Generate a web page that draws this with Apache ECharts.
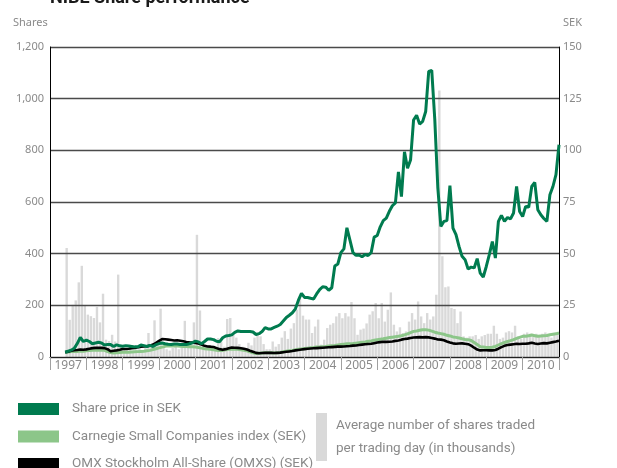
<!DOCTYPE html>
<html>
<head>
<meta charset="utf-8">
<script src="https://cdn.jsdelivr.net/npm/echarts@6/dist/echarts.min.js"></script>
<style>html,body{margin:0;padding:0;background:#fff;}#c{width:617px;height:468px;}</style>
</head>
<body>
<div id="c"></div>
<script>
// ---- DATA (monthly, Jan 1997 .. Dec 2010) ----
const years = ['1997','1998','1999','2000','2001','2002','2003','2004','2005','2006','2007','2008','2009','2010'];
const shareTicks = [0, 200, 400, 600, 800, 1000, 1200];
const sekTicks = [0, 25, 50, 75, 100, 125, 150];

// Average number of shares traded per trading day (thousands)
const shareVolume = [
  null,null,null,null,null,422,144,202,219,289,353,199,
  164,158,151,194,134,245,67,62,86,60,319,40,
  35,30,45,25,30,40,20,35,93,45,142,55,
  187,40,30,25,35,40,30,45,140,50,60,134,
  473,180,50,40,45,30,35,73,60,40,147,151,
  85,75,50,40,35,55,45,75,87,80,50,30,
  30,60,40,50,75,100,70,110,131,183,228,160,
  145,145,93,118,145,48,67,112,125,131,157,170,
  150,170,157,213,150,86,106,110,130,164,177,209,
  150,209,137,183,250,125,99,115,93,99,137,170,
  145,215,157,131,170,145,157,241,1032,390,270,273,
  190,186,131,176,80,75,80,80,85,70,80,85,
  90,90,121,90,70,75,95,100,95,121,80,70,
  90,95,90,80,90,85,90,95,80,75,85,95
];

// Share price in SEK (month end)
const sharePrice = [
  null,null,null,null,2.3,2.8,3.3,4.2,6.5,9.5,7.5,8.2,
  7.5,6.4,6.8,7.1,6.8,5.8,6.0,6.0,5.1,5.9,5.4,5.2,
  5.5,5.3,5.1,4.9,4.9,5.8,5.5,5.1,5.6,5.1,6.0,6.5,
  6.8,6.4,6.2,6.1,6.3,6.3,6.1,6.0,6.0,6.4,6.9,7.7,
  7.3,6.4,7.5,8.7,8.7,8.4,7.6,7.4,9.3,10.2,10.4,10.7,
  11.9,12.6,12.3,12.3,12.4,12.3,12.1,10.9,11.3,12.3,14.2,13.6,
  13.6,14.3,14.9,15.7,17.4,19.1,20.2,21.4,23.3,27.5,30.8,28.8,
  28.8,28.4,28.1,30.5,32.6,34.0,33.8,32.3,33.5,44.0,45.0,50.5,
  52.3,62.5,56.6,50.5,49.2,49.4,48.5,49.6,49.1,50.5,58.0,58.8,
  63.0,66.0,67.2,70.5,73.2,74.6,89.6,77.6,99.3,91.3,95.3,114.7,
  117,112.7,114,118.8,138.2,138.7,115,82,63.2,65.6,66,82.9,
  62.4,59.2,53.5,48.7,47.1,42.6,43.5,43.1,47.6,40.6,38.7,43.8,
  49.5,55.9,47.9,65.6,68.5,65.6,67.5,66.8,69.7,82.5,70.4,68.0,
  72.9,72.5,82.5,84.5,71.3,68.8,67.0,65.6,78.5,82.5,88.2,102.7
];

// Carnegie Small Companies index (SEK, rebased)
const carnegieIndex = [
  null,null,null,null,2.3,2.4,2.6,2.8,2.7,2.9,2.8,3.0,
  3.2,3.3,3.4,3.3,3.4,3.2,2.6,2.2,1.9,2.0,2.2,2.3,
  2.3,2.3,2.4,2.5,2.6,2.7,2.8,3.0,3.2,3.6,4.0,4.4,
  4.8,5.2,5.4,5.3,5.4,5.3,5.2,5.1,5.1,5.0,5.0,4.8,
  4.6,4.3,4.0,3.9,3.7,3.5,3.3,3.1,3.2,3.5,3.8,3.9,
  3.8,3.7,3.5,3.3,3.0,2.5,2.0,1.7,1.8,1.9,2.0,2.0,
  2.0,1.9,2.0,2.2,2.5,2.8,3.0,3.2,3.5,3.7,3.9,4.1,
  4.3,4.5,4.6,4.8,4.9,5.0,5.1,5.3,5.5,5.6,5.8,6.0,
  6.2,6.4,6.4,6.5,6.7,6.9,7.1,7.3,7.6,7.8,8.1,8.4,
  8.6,8.8,9.1,9.4,9.6,9.8,10.0,10.3,10.7,11.2,11.8,12.4,
  12.6,12.9,13.2,13.2,13.0,12.5,12.0,11.6,11.3,11.0,10.5,10.2,
  9.7,9.5,9.2,8.8,8.5,8.4,8.0,7.0,6.0,5.0,4.8,4.6,
  4.6,4.7,5.1,5.8,6.5,7.0,7.5,7.9,8.4,9.0,9.5,10.0,
  10.0,10.3,10.6,10.3,10.0,10.2,10.3,10.4,10.8,11.0,11.2,11.6
];

// OMX Stockholm All-Share (OMXS) (SEK, rebased)
const omxIndex = [
  null,null,null,null,2.3,2.6,3.0,3.3,3.4,3.6,3.5,3.7,
  4.0,4.3,4.4,4.5,4.4,4.3,3.8,2.8,3.0,3.2,3.5,3.9,
  3.9,4.0,4.2,4.4,4.7,5.0,5.1,5.2,5.5,6.0,6.8,7.8,
  8.7,8.6,8.4,8.2,8.0,8.1,7.9,7.6,7.3,7.1,7.0,6.8,
  6.5,6.0,5.4,5.1,5.0,4.8,4.3,3.8,3.5,3.8,4.2,4.6,
  4.5,4.4,4.2,4.0,3.6,3.0,2.5,2.0,1.8,1.9,2.0,2.0,
  2.0,1.9,2.0,2.1,2.3,2.5,2.7,2.9,3.2,3.4,3.6,3.8,
  4.0,4.1,4.2,4.3,4.4,4.5,4.6,4.7,4.8,4.9,5.0,5.0,
  5.1,5.2,5.3,5.5,5.6,5.8,6.0,6.2,6.3,6.4,6.7,7.0,
  7.2,7.4,7.3,7.4,7.5,7.8,8.0,8.4,8.7,8.9,9.2,9.4,
  9.5,9.6,9.5,9.6,9.5,9.2,8.9,8.5,8.4,8.1,7.5,7.0,
  6.6,6.4,6.5,6.6,6.4,6.2,5.5,4.5,3.6,3.2,3.3,3.3,
  3.2,3.2,3.4,4.0,4.8,5.4,5.8,6.0,6.2,6.4,6.3,6.4,
  6.4,6.6,6.9,6.5,6.3,6.5,6.7,6.6,6.9,7.2,7.5,7.9
];

const seriesNames = ['Share price in SEK','Carnegie Small Companies index (SEK)','OMX Stockholm All-Share (OMXS) (SEK)'];
const volumeName = 'Average number of shares traded per trading day (in thousands)';

// ---- build ----
const nMonths = shareVolume.length;
const barPts = shareVolume.map((v, i) => [i + 0.5, v]);
const endPts = arr => arr.map((v, i) => [i + 1, v]);

const FONT = '"Roboto","Noto Sans",sans-serif';
const AX_FONT = '"Noto Sans","Open Sans",sans-serif';
const GREY = '#8a8a8a';

const chart = echarts.init(document.getElementById('c'), null, {renderer: 'canvas'});
chart.setOption({
  animation: false,
  backgroundColor: '#fff',
  title: {
    text: 'NIBE Share performance', left: 50, top: -11, padding: 0,
    textStyle: {fontFamily: FONT, fontSize: 18, fontWeight: 'bold', color: '#1a1a1a'}
  },
  grid: {left: 50, right: 58, top: 47, bottom: 111, containLabel: false},
  xAxis: [
    {type: 'value', min: 0, max: nMonths, show: false},
    {type: 'category', data: years, boundaryGap: true, position: 'bottom',
     axisLine: {show: true, lineStyle: {color: '#222', width: 1}},
     axisTick: {show: true, interval: 0, alignWithLabel: false, length: 13, lineStyle: {color: '#a0a0a0', width: 1}},
     axisLabel: {interval: 0, color: GREY, fontSize: 12, margin: 3, fontFamily: AX_FONT},
     splitLine: {show: false}, z: 3}
  ],
  yAxis: [
    {type: 'value', min: 0, max: 1200, interval: 200, position: 'left', z: 3,
     name: 'Shares', nameLocation: 'end', nameGap: 19,
     nameTextStyle: {color: GREY, fontSize: 11, fontFamily: AX_FONT, align: 'left', padding: [0, 0, 0, -37]},
     axisLine: {show: true, lineStyle: {color: '#000', width: 1}},
     axisTick: {show: false},
     axisLabel: {color: GREY, fontSize: 11, margin: 6, fontFamily: AX_FONT,
       formatter: v => v.toLocaleString('en-US')},
     splitLine: {show: true, lineStyle: {color: '#4a4a4a', width: 1.3}}},
    {type: 'value', min: 0, max: 150, interval: 25, position: 'right', z: 3,
     name: 'SEK', nameLocation: 'end', nameGap: 19,
     nameTextStyle: {color: GREY, fontSize: 11, fontFamily: AX_FONT, align: 'left', padding: [0, 0, 0, 4]},
     axisLine: {show: true, lineStyle: {color: '#000', width: 1}},
     axisTick: {show: false},
     axisLabel: {color: GREY, fontSize: 11, margin: 4, fontFamily: AX_FONT},
     splitLine: {show: false}}
  ],
  legend: [
    {data: seriesNames, orient: 'vertical', left: 18, top: 401, height: 120, padding: 0,
     itemWidth: 41, itemHeight: 12, itemGap: 11.5,
     icon: 'rect', selectedMode: false,
     textStyle: {color: GREY, fontSize: 13.5, fontFamily: FONT, lineHeight: 16, padding: [0, 0, 0, 8]}},
    {data: [volumeName], orient: 'vertical', left: 316, top: 411, height: 120, padding: 0,
     itemWidth: 11, itemHeight: 48,
     icon: 'rect', selectedMode: false,
     formatter: () => 'Average number of shares traded\nper trading day (in thousands)',
     textStyle: {color: GREY, fontSize: 13.5, fontFamily: FONT, lineHeight: 23, padding: [0, 0, 6, 4]}}
  ],
  series: [
    {name: volumeName, type: 'bar', xAxisIndex: 0, yAxisIndex: 0, data: barPts, barWidth: 2.4,
     itemStyle: {color: '#d9d9d9'}, z: 2},
    {name: seriesNames[1], type: 'line', xAxisIndex: 0, yAxisIndex: 1, data: endPts(carnegieIndex),
     showSymbol: false, symbol: 'none', lineStyle: {color: '#8cc689', width: 3}, itemStyle: {color: '#8cc689'}, z: 5},
    {name: seriesNames[2], type: 'line', xAxisIndex: 0, yAxisIndex: 1, data: endPts(omxIndex),
     showSymbol: false, symbol: 'none', lineStyle: {color: '#000', width: 2.6}, itemStyle: {color: '#000'}, z: 6},
    {name: seriesNames[0], type: 'line', xAxisIndex: 0, yAxisIndex: 1, data: endPts(sharePrice),
     showSymbol: false, symbol: 'none', lineStyle: {color: '#007b4f', width: 3}, itemStyle: {color: '#007b4f'}, z: 7}
  ]
});
</script>
</body>
</html>
